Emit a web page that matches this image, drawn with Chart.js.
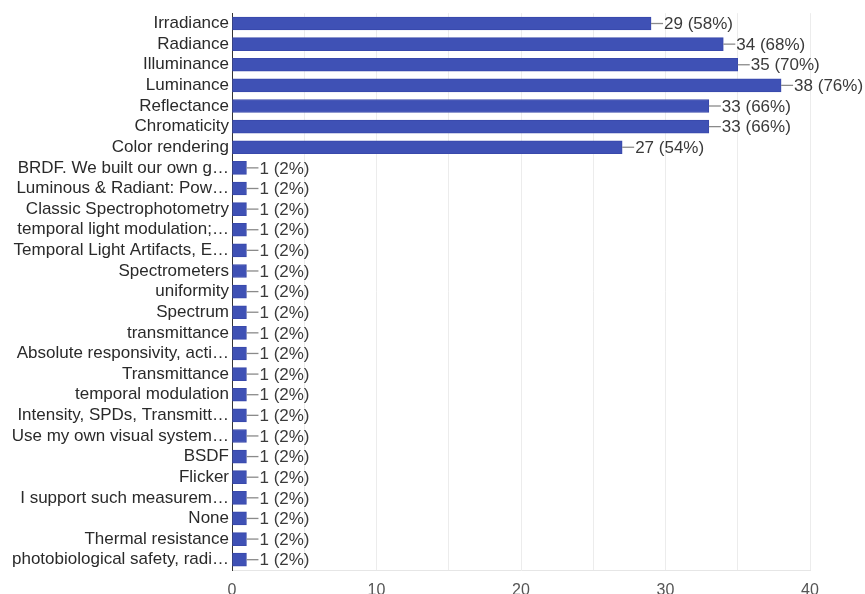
<!DOCTYPE html>
<html>
<head>
<meta charset="utf-8">
<script src="https://cdn.jsdelivr.net/npm/chart.js@4/dist/chart.umd.min.js"></script>
<style>
  html, body { margin: 0; padding: 0; background: #fff; }
  #wrap { width: 865px; height: 594px; position: relative; }
</style>
</head>
<body>
<div id="wrap"><canvas id="answers"></canvas></div>
<script>
const categories = [
  'Irradiance', 'Radiance', 'Illuminance', 'Luminance', 'Reflectance',
  'Chromaticity', 'Color rendering', 'BRDF. We built our own g…',
  'Luminous & Radiant: Pow…', 'Classic Spectrophotometry',
  'temporal light modulation;…', 'Temporal Light Artifacts, E…',
  'Spectrometers', 'uniformity', 'Spectrum', 'transmittance',
  'Absolute responsivity, acti…', 'Transmittance', 'temporal modulation',
  'Intensity, SPDs, Transmitt…', 'Use my own visual system…', 'BSDF',
  'Flicker', 'I support such measurem…', 'None', 'Thermal resistance',
  'photobiological safety, radi…'
];
const counts = [29, 34, 35, 38, 33, 33, 27, 1, 1, 1, 1, 1, 1, 1, 1, 1, 1, 1, 1, 1, 1, 1, 1, 1, 1, 1, 1];
const respondents = 50;
const xTicks = [0, 10, 20, 30, 40];

const FONT = '"Liberation Sans", Arial, sans-serif';

// leader line + "n (p%)" after each bar
const valueLabels = {
  id: 'valueLabels',
  afterDatasetsDraw(chart) {
    const ctx = chart.ctx;
    const meta = chart.getDatasetMeta(0);
    ctx.save();
    ctx.font = '17px ' + FONT;
    ctx.textBaseline = 'middle';
    ctx.textAlign = 'left';
    meta.data.forEach((bar, i) => {
      const v = counts[i];
      const pct = Math.round(v / respondents * 100);
      ctx.strokeStyle = '#8a8a8a';
      ctx.lineWidth = 1.3;
      ctx.beginPath();
      ctx.moveTo(bar.x, bar.y);
      ctx.lineTo(bar.x + 12, bar.y);
      ctx.stroke();
      ctx.fillStyle = '#3a3a3a';
      ctx.fillText(`${v} (${pct}%)`, bar.x + 13, bar.y + 1);
    });
    ctx.restore();
  }
};

new Chart(document.getElementById('answers'), {
  type: 'bar',
  data: {
    labels: categories,
    datasets: [{
      data: counts,
      backgroundColor: '#3f51b5',
      borderColor: '#3949ab',
      borderWidth: 1,
      borderSkipped: false,
      barThickness: 13,
    }]
  },
  plugins: [valueLabels],
  options: {
    indexAxis: 'y',
    responsive: true,
    maintainAspectRatio: false,
    animation: false,
    layout: { padding: { top: 10, right: 55, bottom: 0, left: 0 } },
    plugins: {
      legend: { display: false },
      tooltip: { enabled: false },
    },
    scales: {
      x: {
        min: 0,
        max: 40,
        ticks: {
          stepSize: 5,
          autoSkip: false,
          maxRotation: 0,
          padding: 11,
          color: '#555',
          font: { family: FONT, size: 16 },
          callback: v => xTicks.includes(v) ? v : '',
        },
        grid: { color: '#ececec', drawTicks: false },
        border: { display: true, color: '#e6e6e6' },
        afterFit: s => { s.height = 24; },
      },
      y: {
        ticks: {
          autoSkip: false,
          padding: 3,
          color: '#2a2a2a',
          font: { family: FONT, size: 17 },
        },
        grid: { display: false, drawTicks: false },
        border: { display: true, color: '#333', width: 1 },
        afterFit: s => { s.width = 232; },
      },
    },
  },
});
</script>
</body>
</html>
